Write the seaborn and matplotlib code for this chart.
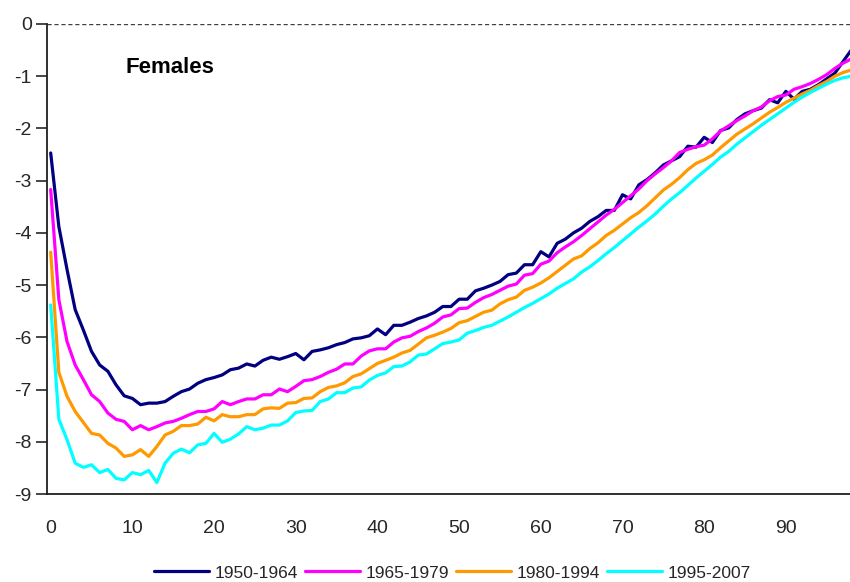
import matplotlib
matplotlib.use("Agg")
import matplotlib.pyplot as plt
import seaborn as sns
import pandas as pd

# ---------------------------------------------------------
# Data: log mortality rates, females, ages 0-98
# ---------------------------------------------------------

ages = list(range(0, 99))

rates_1950_1964 = [
    -2.47, -3.88, -4.70, -5.47, -5.86, -6.27, -6.53, -6.65, -6.91, -7.12,
    -7.17, -7.29, -7.26, -7.26, -7.23, -7.13, -7.04, -6.99, -6.88, -6.81,
    -6.77, -6.72, -6.62, -6.59, -6.51, -6.55, -6.44, -6.38, -6.42, -6.37,
    -6.31, -6.43, -6.27, -6.24, -6.20, -6.14, -6.10, -6.03, -6.01, -5.97,
    -5.84, -5.95, -5.77, -5.77, -5.71, -5.64, -5.59, -5.52, -5.41, -5.41,
    -5.27, -5.27, -5.11, -5.06, -5.00, -4.93, -4.80, -4.77, -4.61, -4.61,
    -4.36, -4.46, -4.20, -4.12, -4.00, -3.91, -3.78, -3.69, -3.57, -3.57,
    -3.27, -3.35, -3.08, -2.98, -2.85, -2.70, -2.62, -2.54, -2.34, -2.36,
    -2.17, -2.27, -2.04, -1.99, -1.83, -1.72, -1.66, -1.61, -1.45, -1.51,
    -1.29, -1.44, -1.29, -1.25, -1.16, -1.05, -0.94, -0.72, -0.50,
]

rates_1965_1979 = [
    -3.17, -5.28, -6.08, -6.53, -6.81, -7.10, -7.23, -7.45, -7.57, -7.61,
    -7.77, -7.69, -7.77, -7.71, -7.64, -7.61, -7.55, -7.48, -7.42, -7.42,
    -7.37, -7.23, -7.29, -7.23, -7.18, -7.18, -7.10, -7.10, -6.99, -7.04,
    -6.94, -6.83, -6.81, -6.75, -6.67, -6.61, -6.51, -6.51, -6.36, -6.26,
    -6.22, -6.22, -6.09, -6.01, -5.98, -5.89, -5.82, -5.73, -5.61, -5.57,
    -5.45, -5.44, -5.33, -5.24, -5.18, -5.10, -5.02, -4.98, -4.81, -4.78,
    -4.60, -4.54, -4.38, -4.27, -4.17, -4.05, -3.92, -3.79, -3.66, -3.55,
    -3.42, -3.29, -3.16, -3.00, -2.87, -2.75, -2.62, -2.46, -2.40, -2.35,
    -2.32, -2.20, -2.05, -1.95, -1.85, -1.76, -1.66, -1.59, -1.47, -1.39,
    -1.36, -1.25, -1.20, -1.14, -1.06, -0.97, -0.85, -0.75, -0.67,
]

rates_1980_1994 = [
    -4.37, -6.67, -7.13, -7.42, -7.63, -7.84, -7.87, -8.03, -8.12, -8.28,
    -8.25, -8.15, -8.28, -8.09, -7.87, -7.80, -7.69, -7.69, -7.66, -7.53,
    -7.60, -7.48, -7.52, -7.52, -7.48, -7.48, -7.37, -7.35, -7.36, -7.26,
    -7.25, -7.17, -7.16, -7.04, -6.96, -6.93, -6.87, -6.75, -6.70, -6.60,
    -6.50, -6.44, -6.38, -6.30, -6.25, -6.13, -6.01, -5.96, -5.90, -5.83,
    -5.72, -5.68, -5.60, -5.52, -5.48, -5.36, -5.28, -5.23, -5.10, -5.04,
    -4.96, -4.86, -4.74, -4.62, -4.50, -4.44, -4.30, -4.19, -4.05, -3.95,
    -3.83, -3.71, -3.61, -3.48, -3.33, -3.18, -3.07, -2.94, -2.79, -2.67,
    -2.60, -2.51, -2.37, -2.24, -2.11, -2.01, -1.91, -1.80, -1.69, -1.60,
    -1.50, -1.42, -1.34, -1.27, -1.18, -1.10, -1.00, -0.93, -0.88,
]

rates_1995_2007 = [
    -5.38, -7.57, -7.96, -8.41, -8.49, -8.44, -8.59, -8.53, -8.70, -8.73,
    -8.59, -8.63, -8.55, -8.78, -8.41, -8.22, -8.14, -8.21, -8.06, -8.03,
    -7.84, -8.01, -7.95, -7.85, -7.71, -7.77, -7.74, -7.68, -7.68, -7.60,
    -7.44, -7.41, -7.40, -7.23, -7.18, -7.06, -7.06, -6.97, -6.95, -6.82,
    -6.73, -6.68, -6.56, -6.55, -6.47, -6.34, -6.32, -6.22, -6.12, -6.09,
    -6.05, -5.92, -5.87, -5.81, -5.77, -5.69, -5.61, -5.52, -5.43, -5.35,
    -5.26, -5.17, -5.06, -4.97, -4.88, -4.75, -4.65, -4.53, -4.40, -4.28,
    -4.15, -4.02, -3.89, -3.77, -3.64, -3.49, -3.35, -3.23, -3.09, -2.95,
    -2.82, -2.69, -2.55, -2.44, -2.30, -2.18, -2.06, -1.94, -1.83, -1.72,
    -1.61, -1.50, -1.40, -1.31, -1.23, -1.15, -1.08, -1.03, -1.00,
]

periods = ["1950-1964", "1965-1979", "1980-1994", "1995-2007"]
colors = ["#000080", "#FF00FF", "#FF9900", "#00FFFF"]

# ---------------------------------------------------------
# Plot Style
# ---------------------------------------------------------

sns.set_style("white")
plt.rcParams["font.family"] = ["Liberation Sans", "DejaVu Sans"]
plt.rcParams["axes.unicode_minus"] = False

df = pd.DataFrame({
    "age": ages * 4,
    "rate": rates_1950_1964 + rates_1965_1979 + rates_1980_1994 + rates_1995_2007,
    "period": sum([[p] * len(ages) for p in periods], []),
})

fig = plt.figure(figsize=(8.5, 5.82), dpi=100)
ax = fig.add_axes([0.0553, 0.1512, 0.9447, 0.8076])

sns.lineplot(
    data=df,
    x="age",
    y="rate",
    hue="period",
    hue_order=periods,
    palette=dict(zip(periods, colors)),
    linewidth=2.3,
    legend=False,
    ax=ax,
)

ax.axhline(0, color="#404040", linewidth=1.0, linestyle=(0, (3, 2)))

ax.set_xlim(-0.45, 97.85)
ax.set_ylim(-9, 0)
ax.set_xticks(range(0, 91, 10))
ax.set_yticks(range(-9, 1))
ax.set_xlabel("")
ax.set_ylabel("")

ax.tick_params(axis="x", length=0, pad=19, labelsize=14)
ax.tick_params(axis="y", length=8, width=1.2, pad=3, labelsize=14, left=True)

for side in ["top", "right"]:
    ax.spines[side].set_visible(False)
for side in ["left", "bottom"]:
    ax.spines[side].set_color("#202020")
    ax.spines[side].set_linewidth(1.3)

ax.text(14.6, -0.84, "Females", fontsize=16, fontweight="bold",
        ha="center", va="center", color="black")

handles = ax.get_lines()[:4]
fig.legend(
    handles,
    periods,
    loc="center",
    bbox_to_anchor=(0.532, 0.0155),
    ncol=4,
    frameon=False,
    fontsize=12.5,
    handlelength=3.2,
    handletextpad=0.3,
    columnspacing=0.4,
)

fig.savefig("out.png", dpi=100)
plt.close(fig)
